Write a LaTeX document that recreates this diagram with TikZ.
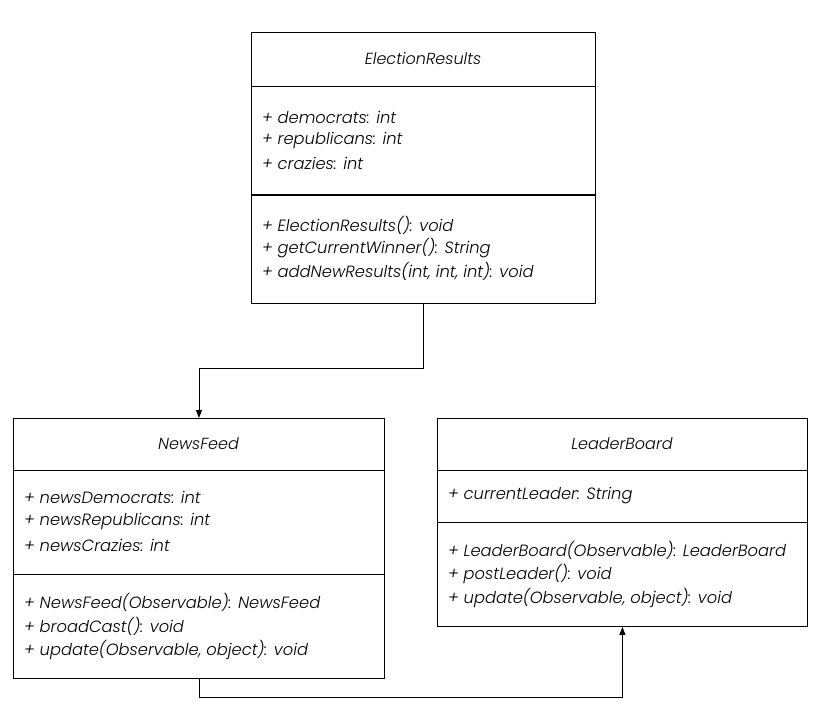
\documentclass[tikz,border=0pt]{standalone}
\usepackage{fontspec}
\setmainfont{Poppins}[UprightFont=* Light, ItalicFont=* Light Italic]
\usetikzlibrary{arrows.meta}
\begin{document}
\begin{tikzpicture}[x=1pt,y=-1pt,
  classbox/.style={draw=black, line width=0.9pt, rectangle, inner sep=0pt, anchor=north west},
  divider/.style={line width=0.9pt},
  title/.style={font=\fontsize{16}{18}\selectfont\itshape, anchor=center, inner sep=0pt},
  member/.style={font=\fontsize{16.3}{18}\selectfont\itshape, anchor=west, inner sep=0pt},
  link/.style={line width=0.9pt, -{Triangle[length=8pt,width=6pt]}}]
\useasboundingbox (0,0) rectangle (816,720);

% ElectionResults
\node[classbox, minimum width=344pt, minimum height=271pt] (er) at (251,32) {};
\draw[divider] (251,86) -- (595,86);
\draw[line width=1.8pt] (251,195) -- (595,195);
\node[title] (ert) at (423,59) {ElectionResults};
\node[member] (era1) at (262,117) {+ democrats: int};
\node[member] (era2) at (262,140) {+ republicans: int};
\node[member] (era3) at (262,163) {+ crazies: int};
\node[member] (erm1) at (262,225) {+ ElectionResults(): void};
\node[member] (erm2) at (262,248) {+ getCurrentWinner(): String};
\node[member] (erm3) at (262,271) {+ addNewResults(int, int, int): void};

% NewsFeed
\node[classbox, minimum width=371pt, minimum height=260pt] (nf) at (13,418) {};
\draw[divider] (13,470) -- (384,470);
\draw[divider] (13,574) -- (384,574);
\node[title] (nft) at (198.5,444) {NewsFeed};
\node[member] (nfa1) at (24,497) {+ newsDemocrats: int};
\node[member] (nfa2) at (24,521) {+ newsRepublicans: int};
\node[member] (nfa3) at (24,545) {+ newsCrazies: int};
\node[member] (nfm1) at (24,602) {+ NewsFeed(Observable): NewsFeed};
\node[member] (nfm2) at (24,626) {+ broadCast(): void};
\node[member] (nfm3) at (24,650) {+ update(Observable, object): void};

% LeaderBoard
\node[classbox, minimum width=370pt, minimum height=208pt] (lb) at (437,418) {};
\draw[divider] (437,470) -- (807,470);
\draw[divider] (437,522) -- (807,522);
\node[title] (lbt) at (622,444) {LeaderBoard};
\node[member] (lba1) at (448,496) {+ currentLeader: String};
\node[member] (lbm1) at (448,550) {+ LeaderBoard(Observable): LeaderBoard};
\node[member] (lbm2) at (448,574) {+ postLeader(): void};
\node[member] (lbm3) at (448,598) {+ update(Observable, object): void};

% connectors
\coordinate (bend1) at (423,368);
\coordinate (bend2) at (198.5,697);
\draw[link] (er.south) -- (er.south |- bend1) -| (nf.north);
\draw[link] (nf.south) -- (nf.south |- bend2) -| (lb.south);
\end{tikzpicture}
\end{document}
